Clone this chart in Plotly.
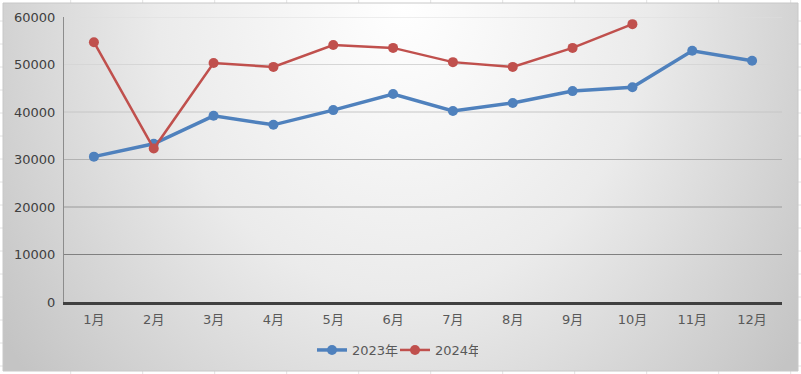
import base64
import plotly.graph_objects as go

# ---- data ----
months = ["1月", "2月", "3月", "4月", "5月", "6月", "7月", "8月", "9月", "10月", "11月", "12月"]
series_2023 = [30600, 33300, 39200, 37300, 40400, 43800, 40200, 41900, 44400, 45200, 52900, 50800]
series_2024 = [54700, 32300, 50300, 49500, 54100, 53500, 50500, 49500, 53500, 58500]
name_2023 = "2023年"
name_2024 = "2024年"
y_ticks = [0, 10000, 20000, 30000, 40000, 50000, 60000]
grid_colors = [None, "#808080", "#9a9a9a", "#b2b2b2", "#c6c6c6", "#d6d6d6", "#dedede"]

# ---- geometry (pixels) ----
W, H = 801, 374
L, R, T, B = 64, 782, 17, 302
PW, PH = R - L, B - T


def xp(px):
    return (px - L) / PW


def yp(py):
    return (B - py) / PH


FONT = "DejaVu Sans, Noto Sans CJK SC, sans-serif"

# radial gradient background as an svg image
bx0, by0, bx1, by1 = 3, 3, 798, 371
bw, bh = bx1 - bx0, by1 - by0
svg = f'''<svg xmlns="http://www.w3.org/2000/svg" width="{bw}" height="{bh}" viewBox="0 0 {bw} {bh}">
<defs><radialGradient id="g" gradientUnits="userSpaceOnUse" cx="0" cy="0" r="1"
 gradientTransform="translate(400 0) scale(490 580)">
<stop offset="0" stop-color="#ffffff"/><stop offset="0.5" stop-color="#ebebeb"/>
<stop offset="1" stop-color="#c4c4c4"/></radialGradient></defs>
<rect x="0" y="0" width="{bw}" height="{bh}" fill="url(#g)"/></svg>'''
src = "data:image/svg+xml;base64," + base64.b64encode(svg.encode()).decode()

fig = go.Figure()
fig.add_trace(go.Scatter(
    x=months, y=series_2023, name=name_2023, mode="lines+markers",
    line=dict(color="#4F81BD", width=3.5),
    marker=dict(color="#4F81BD", size=10),
))
fig.add_trace(go.Scatter(
    x=months[:len(series_2024)], y=series_2024, name=name_2024, mode="lines+markers",
    line=dict(color="#C0504D", width=2.5),
    marker=dict(color="#C0504D", size=10),
))

shapes = []
# spreadsheet cell lines visible outside the chart box
for k in range(12):
    x = 70.7 + 72 * k
    if x > W:
        break
    for (ya, yb) in [(0, by0), (by1, H)]:
        shapes.append(dict(type="line", xref="paper", yref="paper",
                           x0=xp(x), x1=xp(x), y0=yp(ya), y1=yp(yb),
                           line=dict(color="#e2e2e2", width=1), layer="below"))
for k in range(17):
    y = 21 + 23 * k
    if y > H:
        break
    for (xa, xb) in [(0, bx0), (bx1, W)]:
        shapes.append(dict(type="line", xref="paper", yref="paper",
                           x0=xp(xa), x1=xp(xb), y0=yp(y), y1=yp(y),
                           line=dict(color="#e2e2e2", width=1), layer="below"))
# chart border
shapes.append(dict(type="rect", xref="paper", yref="paper",
                   x0=xp(bx0), x1=xp(bx1), y0=yp(by0), y1=yp(by1),
                   line=dict(color="#c8c8c8", width=1), fillcolor="rgba(0,0,0,0)", layer="below"))
# horizontal gridlines with graded colour
for v, c in zip(y_ticks, grid_colors):
    if c is None:
        continue
    shapes.append(dict(type="line", xref="paper", yref="y", x0=0, x1=1, y0=v, y1=v,
                       line=dict(color=c, width=1), layer="below"))

fig.update_layout(
    width=W, height=H, autosize=False,
    margin=dict(l=L, r=W - R, t=T, b=H - B, pad=0, autoexpand=False),
    paper_bgcolor="white", plot_bgcolor="rgba(0,0,0,0)",
    font=dict(family=FONT, size=13, color="#595959"),
    images=[dict(source=src, xref="paper", yref="paper", x=xp(bx0), y=yp(by0),
                 sizex=xp(bx1) - xp(bx0), sizey=yp(by0) - yp(by1),
                 xanchor="left", yanchor="top", sizing="stretch", layer="below")],
    shapes=shapes,
    showlegend=True,
    legend=dict(orientation="h", x=xp(395), xanchor="center", y=yp(350), yanchor="middle",
                bgcolor="rgba(0,0,0,0)", font=dict(family=FONT, size=13, color="#595959"),
                itemwidth=30, tracegroupgap=0, entrywidth=38, entrywidthmode="pixels"),
    xaxis=dict(type="category", range=[-0.5, 11.5], showgrid=False, zeroline=False,
               showline=True, linecolor="#404040", linewidth=2.5, ticks="",
               tickfont=dict(family=FONT, size=13, color="#595959"),
               ticklabelstandoff=4, fixedrange=True),
    yaxis=dict(range=[0, 60000], tickvals=y_ticks, ticktext=[str(v) for v in y_ticks],
               showgrid=False, zeroline=False, showline=True, linecolor="#8c8c8c",
               linewidth=1, ticks="", tickfont=dict(family=FONT, size=13, color="#404040"),
               ticklabelstandoff=5, fixedrange=True),
)

fig.write_html("out.html", config={"displayModeBar": False, "staticPlot": True},
               post_script="document.body.style.margin='0px';document.body.style.overflow='hidden';")
